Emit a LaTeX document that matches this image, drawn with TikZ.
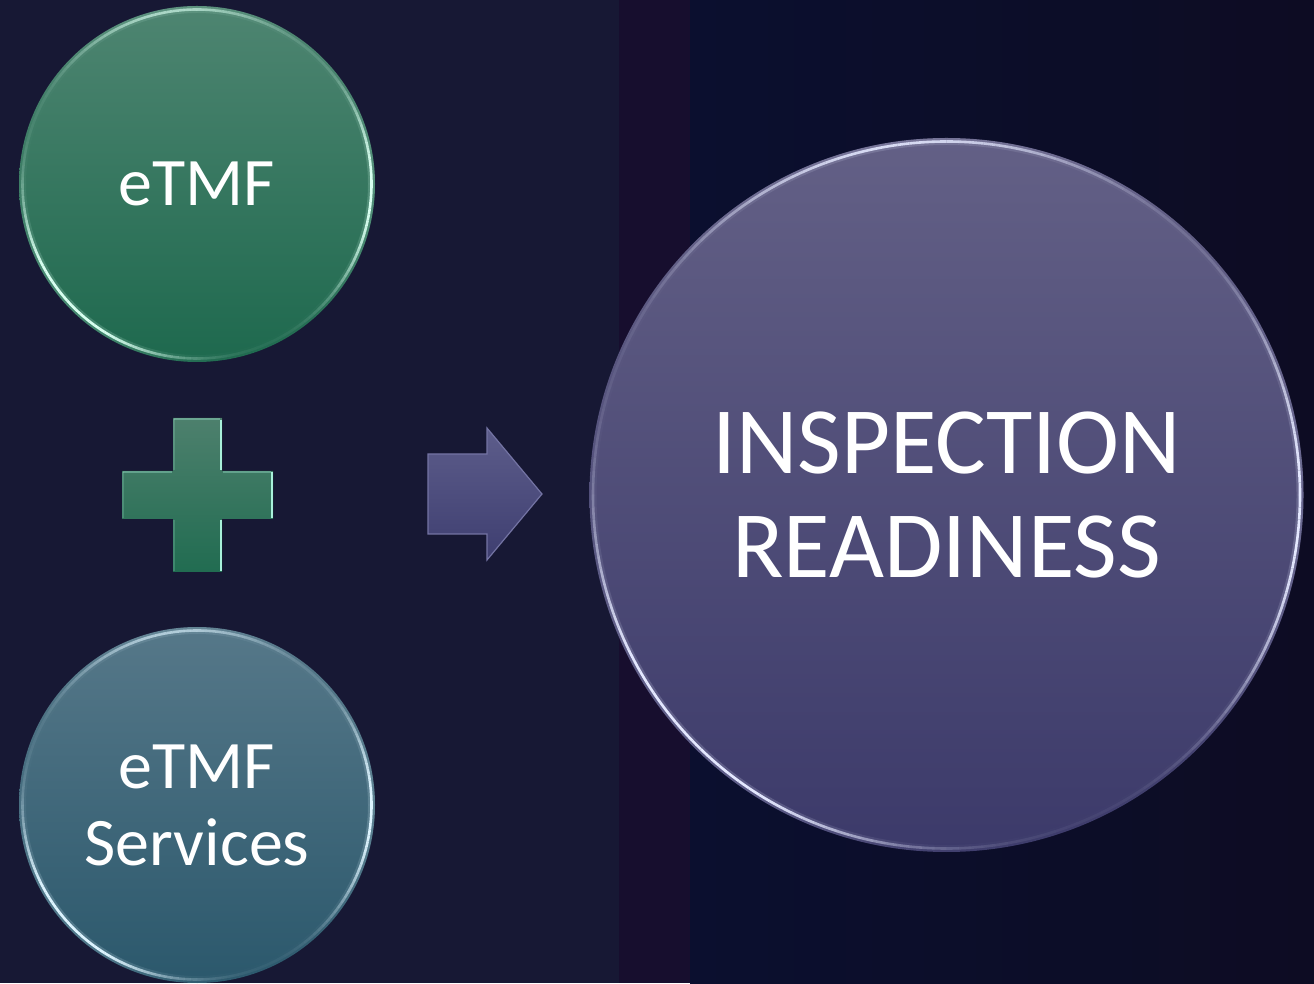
\documentclass[tikz,border=0pt]{standalone}
\usepackage{fontspec}
\setmainfont{Carlito}
\usetikzlibrary{calc}
\definecolor{bgleft}{HTML}{171834}
\definecolor{bgstrip}{HTML}{170E2E}
\definecolor{bgrightA}{HTML}{0B0F2F}
\definecolor{bgrightB}{HTML}{0D0C23}
\definecolor{greentop}{HTML}{4E8571}
\definecolor{greenmid}{HTML}{267358}
\definecolor{greenbot}{HTML}{1E694E}
\definecolor{tealtop}{HTML}{567889}
\definecolor{tealmid}{HTML}{355F74}
\definecolor{tealbot}{HTML}{2B586C}
\definecolor{bigtop}{HTML}{636086}
\definecolor{bigmid}{HTML}{4A4A7A}
\definecolor{bigbot}{HTML}{3C3A6A}
\definecolor{rimgreen}{HTML}{D8FFF0}
\definecolor{rimteal}{HTML}{DDF4FF}
\definecolor{rimbig}{HTML}{E4E8FF}
\definecolor{plustop}{HTML}{4D806D}
\definecolor{plusbot}{HTML}{216C51}
\definecolor{plushl}{HTML}{A8F0DA}
\definecolor{arrtop}{HTML}{5D5D8B}
\definecolor{arrbot}{HTML}{3E3E70}
\definecolor{arredge}{HTML}{7474A4}
\newcommand{\glossrim}[4]{% node, radius, colour, top weight
  \foreach \a in {0,2,...,358}{
    \pgfmathsetmacro{\op}{min(1,1.15*max(0,cos(\a-222))^5+1.0*max(0,cos(\a-356))^7+#4*max(0,cos(\a-98))^6+0.04)}
    \draw[#3, line width=7pt, opacity=0.18*\op] ($(#1.center)+(\a:#2)$) arc[start angle=\a, end angle=\a+2, radius=#2];
    \draw[#3, line width=2.6pt, opacity=\op] ($(#1.center)+(\a:#2)$) arc[start angle=\a, end angle=\a+2, radius=#2];
  }}
\tikzset{
  bubble/.style={circle, inner sep=0pt, text=white, align=center},
  smalltext/.style={font={\fontsize{68}{77}\selectfont}},
  bigtext/.style={font={\fontsize{95}{104}\selectfont}},
}
\begin{document}
\begin{tikzpicture}[x=1pt,y=1pt]
\useasboundingbox (0,0) rectangle (1314,983);
% background
\fill[bgleft] (0,0) rectangle (619,983);
\fill[bgstrip] (619,0) rectangle (690,983);
\shade[left color=bgrightA, right color=bgrightB] (690,0) rectangle (1314,983);
% circles
\node[bubble, smalltext, minimum size=356pt, top color=greentop, middle color=greenmid, bottom color=greenbot] (etmf) at (197,799) {eTMF};
\node[bubble, smalltext, minimum size=356pt, top color=tealtop, middle color=tealmid, bottom color=tealbot] (services) at (197,178) {eTMF\\Services};
\node[bubble, bigtext, minimum size=714pt, top color=bigtop, middle color=bigmid, bottom color=bigbot] (ready) at (946.5,488) {INSPECTION\\READINESS};
\glossrim{etmf}{174.5}{rimgreen}{0.6}
\glossrim{services}{174.5}{rimteal}{0.6}
\glossrim{ready}{353.5}{rimbig}{0.85}
% plus sign
\fill[top color=plustop, bottom color=plusbot] (173,565) -- (222,565) -- (222,512) -- (273,512) -- (273,464) -- (222,464) -- (222,411) -- (173,411) -- (173,464) -- (122,464) -- (122,512) -- (173,512) -- cycle;
\draw[plushl, line width=2pt] (221,563) -- (221,513) (272,511) -- (272,465) (221,463) -- (221,412);
\draw[plushl, line width=1.5pt, opacity=0.35] (174,564) -- (220,564) (123,511) -- (172,511) (223,511) -- (271,511);
\draw[plushl, line width=1.2pt, opacity=0.2] (174,564) -- (174,513) (123,511) -- (123,465) (174,463) -- (174,412);
% arrow
\fill[top color=arrtop, bottom color=arrbot, draw=arredge, line width=1.2pt] (428,529) -- (487,529) -- (487,555) -- (542,489) -- (487,423) -- (487,449) -- (428,449) -- cycle;
\end{tikzpicture}
\end{document}
